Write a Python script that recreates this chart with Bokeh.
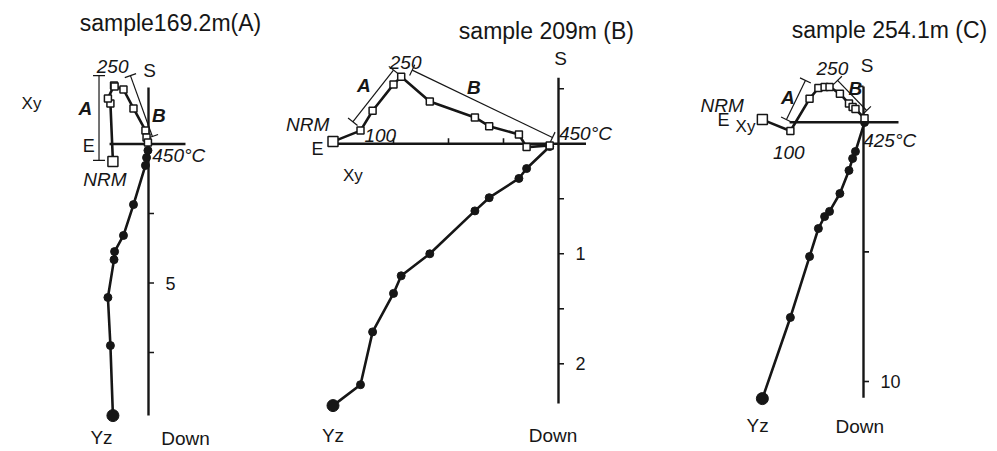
import math
from bokeh.plotting import figure
from bokeh.layouts import row
from bokeh.models import Label, Range1d
from bokeh.embed import file_html
from bokeh.resources import INLINE

FONT = "Liberation Sans"
INK = "#161616"
H = 451

# ---------------- data: sample 169.2 m (A) ----------------
A_title = "sample169.2m(A)"
A_h = [-1.28, -1.37, -1.46, -1.24, -1.22, -0.90, -0.54, -0.11, -0.07, -0.02]
A_xy = [-0.63, 1.46, 1.64, 2.10, 2.07, 1.96, 1.28, 0.49, 0.23, 0.05]
A_down = [9.77, 7.25, 5.52, 4.16, 3.87, 3.29, 2.18, 0.77, 0.49, 0.23]
A_fitA_h = [-1.78, -1.78]
A_fitA_v = [2.46, -0.59]
A_fitB_h = [-0.65, 0.14]
A_fitB_v = [2.46, 0.27]
A_down_ticks = [2.5, 5.0, 7.5]
A_down_labels = ["", "5", ""]
A_up_ticks = []
A_e_ticks = []
A_temp_label = "450°C"

# ---------------- data: sample 209 m (B) ----------------
B_title = "sample 209m (B)"
B_h = [-2.05, -1.80, -1.69, -1.50, -1.43, -1.17, -0.76, -0.63, -0.36, -0.29, -0.08]
B_xy = [0.02, 0.12, 0.30, 0.54, 0.61, 0.385, 0.24, 0.16, 0.085, -0.03, -0.015]
B_down = [2.38, 2.19, 1.71, 1.36, 1.20, 1.00, 0.61, 0.49, 0.315, 0.225, 0.025]
B_fitA_h = [-1.87, -1.50]
B_fitA_v = [0.20, 0.67]
B_fitB_h = [-1.33, -0.055]
B_fitB_v = [0.67, 0.057]
B_down_ticks = [0.5, 1.0, 1.5, 2.0]
B_down_labels = ["", "1", "", "2"]
B_up_ticks = [0.5]
B_e_ticks = [0.5, 1.0, 1.5]
B_temp_label = "450°C"

# ---------------- data: sample 254.1 m (C) ----------------
C_title = "sample 254.1m (C)"
C_h = [-3.90, -2.82, -2.08, -1.74, -1.50, -1.31, -0.91, -0.56, -0.42, -0.31, 0.04]
C_xy = [0.10, -0.34, 0.90, 1.32, 1.36, 1.36, 1.10, 0.72, 0.59, 0.51, 0.15]
C_down = [10.66, 7.53, 5.18, 4.10, 3.64, 3.44, 2.75, 1.86, 1.40, 1.13, 0.01]
C_fitA_h = [-2.97, -2.24]
C_fitA_v = [0.10, 1.61]
C_fitB_h = [-1.00, 0.12]
C_fitB_v = [1.61, 0.45]
C_down_ticks = [5.0, 10.0]
C_down_labels = ["", "10"]
C_up_ticks = []
C_e_ticks = []
C_temp_label = "425°C"


def make_panel(cfg):
    s = cfg["scale"]
    ox, oy = cfg["origin"]
    W = cfg["width"]
    p = figure(width=W, height=H, output_backend="svg", toolbar_location=None,
               x_range=Range1d(-ox / s, (W - ox) / s),
               y_range=Range1d(-(H - oy) / s, oy / s),
               x_axis_location=None, y_axis_location=None, min_border=0)
    p.grid.visible = False
    p.outline_line_color = None
    p.background_fill_color = "white"
    p.border_fill_color = "white"

    tk = 5.5 / s
    # axes
    vt, vb = cfg["v_ext"]
    hl, hr = cfg["h_ext"]
    p.segment(x0=[0, hl], y0=[vt, 0], x1=[0, hr], y1=[vb, 0], line_color=INK, line_width=2.4)
    dt = cfg["down_ticks"]
    ut = cfg["up_ticks"]
    et = cfg["e_ticks"]
    tx0 = [0] * (len(dt) + len(ut)) + [-e for e in et]
    ty0 = [-d for d in dt] + list(ut) + [0] * len(et)
    tx1 = [tk] * (len(dt) + len(ut)) + [-e for e in et]
    ty1 = [-d for d in dt] + list(ut) + [tk] * len(et)
    if cfg.get("top_hook"):
        tx0.append(0); ty0.append(vt); tx1.append(-tk); ty1.append(vt)
    p.segment(x0=tx0, y0=ty0, x1=tx1, y1=ty1, line_color=INK, line_width=1.6)

    # fit lines with perpendicular end caps
    cap = 6.0 / s
    for fh, fv in (cfg["fitA"], cfg["fitB"]):
        p.line(fh, fv, line_color=INK, line_width=1.2)
        dx, dy = fh[1] - fh[0], fv[1] - fv[0]
        L = math.hypot(dx, dy)
        nx, ny = -dy / L * cap, dx / L * cap
        p.segment(x0=[fh[0] - nx, fh[1] - nx], y0=[fv[0] - ny, fv[1] - ny],
                  x1=[fh[0] + nx, fh[1] + nx], y1=[fv[0] + ny, fv[1] + ny],
                  line_color=INK, line_width=1.2)

    h = cfg["h"]
    xy = cfg["xy"]
    up = [-d for d in cfg["down"]]
    # vertical projection (Yz)
    p.line(h, up, line_color=INK, line_width=2.6)
    p.scatter(h[1:], up[1:], marker="circle", size=8, fill_color=INK, line_color=INK)
    p.scatter(h[:1], up[:1], marker="circle", size=12, fill_color=INK, line_color=INK)
    # horizontal projection (Xy)
    p.line(h, xy, line_color=INK, line_width=2.6)
    p.scatter(h[1:], xy[1:], marker="square", size=7, fill_color="white", line_color=INK, line_width=1.5)
    p.scatter(h[:1], xy[:1], marker="square", size=10, fill_color="white", line_color=INK, line_width=1.5)

    for d, lab in zip(dt, cfg["down_labels"]):
        if lab:
            p.add_layout(Label(x=cfg["tick_label_x"], y=-d, text=lab, text_font=FONT,
                               text_font_size="18px", text_align="left", text_baseline="middle",
                               text_color=INK))
    for text, x, y, style, size in cfg["labels"]:
        p.add_layout(Label(x=x, y=y, text=text, text_font=FONT, text_font_size=size,
                           text_font_style=style, text_align="center", text_baseline="middle",
                           text_color=INK))
    return p


pA = make_panel(dict(
    width=280, scale=27.8, origin=(148, 143.5),
    v_ext=(2.03, -9.77), h_ext=(-1.40, 1.33),
    down_ticks=A_down_ticks, down_labels=A_down_labels, up_ticks=A_up_ticks, e_ticks=A_e_ticks,
    fitA=(A_fitA_h, A_fitA_v), fitB=(A_fitB_h, A_fitB_v),
    h=A_h, xy=A_xy, down=A_down, tick_label_x=0.61,
    labels=[
        (A_title, 0.79, 4.37, "normal", "23px"),
        ("Xy", -4.21, 1.46, "normal", "17px"),
        ("250", -1.29, 2.79, "italic", "19px"),
        ("S", 0.04, 2.64, "normal", "19px"),
        ("A", -2.27, 1.26, "bold italic", "19px"),
        ("B", 0.37, 1.03, "bold italic", "19px"),
        ("E", -2.15, -0.08, "normal", "18px"),
        (A_temp_label, 1.09, -0.41, "italic", "19px"),
        ("NRM", -1.57, -1.28, "italic", "19px"),
        ("Yz", -1.69, -10.55, "normal", "19px"),
        ("Down", 1.33, -10.58, "normal", "19px"),
    ]))

pB = make_panel(dict(
    width=382, scale=110.0, origin=(278, 143.3),
    v_ext=(0.60, -2.36), h_ext=(-2.05, 0.25),
    down_ticks=B_down_ticks, down_labels=B_down_labels, up_ticks=B_up_ticks, e_ticks=B_e_ticks,
    fitA=(B_fitA_h, B_fitA_v), fitB=(B_fitB_h, B_fitB_v),
    h=B_h, xy=B_xy, down=B_down, tick_label_x=0.155,
    labels=[
        (B_title, -0.11, 1.03, "normal", "23px"),
        ("S", 0.02, 0.78, "normal", "19px"),
        ("250", -1.39, 0.74, "italic", "19px"),
        ("A", -1.77, 0.53, "bold italic", "19px"),
        ("B", -0.77, 0.51, "bold italic", "19px"),
        ("NRM", -2.28, 0.18, "italic", "19px"),
        ("100", -1.62, 0.075, "italic", "19px"),
        ("E", -2.19, -0.05, "normal", "18px"),
        (B_temp_label, 0.245, 0.094, "italic", "19px"),
        ("Xy", -1.87, -0.29, "normal", "17px"),
        ("Yz", -2.05, -2.65, "normal", "19px"),
        ("Down", -0.05, -2.65, "normal", "19px"),
    ]))

pC = make_panel(dict(
    width=335, scale=25.93, origin=(201, 121.7),
    v_ext=(1.38, -10.63), h_ext=(-2.85, 1.35), top_hook=True,
    down_ticks=C_down_ticks, down_labels=C_down_labels, up_ticks=C_up_ticks, e_ticks=C_e_ticks,
    fitA=(C_fitA_h, C_fitA_v), fitB=(C_fitB_h, C_fitB_v),
    h=C_h, xy=C_xy, down=C_down, tick_label_x=0.66,
    labels=[
        (C_title, 1.0, 3.54, "normal", "23px"),
        ("250", -1.20, 2.06, "italic", "19px"),
        ("S", 0.14, 2.19, "normal", "19px"),
        ("A", -2.92, 0.96, "bold italic", "19px"),
        ("B", -0.31, 1.30, "bold italic", "19px"),
        ("NRM", -5.45, 0.64, "italic", "19px"),
        ("E", -5.40, 0.10, "normal", "18px"),
        ("Xy", -4.55, -0.17, "normal", "17px"),
        ("100", -2.88, -1.16, "italic", "19px"),
        (C_temp_label, 1.01, -0.71, "italic", "19px"),
        ("Yz", -4.08, -11.70, "normal", "19px"),
        ("Down", -0.14, -11.72, "normal", "19px"),
    ]))

layout = row(pA, pB, pC, spacing=0)
open("out.html", "w").write(file_html(layout, INLINE))
